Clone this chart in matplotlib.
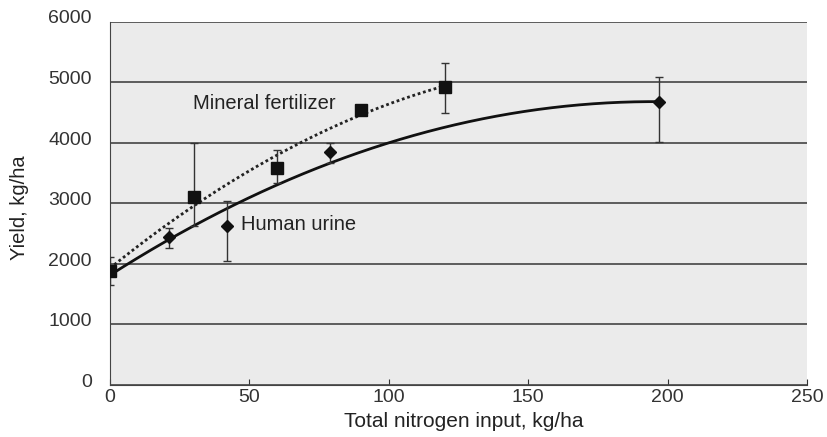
import numpy as np
import matplotlib
matplotlib.use('Agg')
import matplotlib.pyplot as plt
import matplotlib.transforms as mtransforms

plt.rcParams['font.family'] = ['Liberation Sans', 'DejaVu Sans']

# Mineral fertilizer (squares)
mineral_n = [0, 30, 60, 90, 120]
mineral_yield = [1890, 3110, 3590, 4550, 4930]
mineral_err_low = [240, 480, 250, 0, 430]
mineral_err_high = [220, 890, 290, 0, 390]

# Human urine (diamonds)
urine_n = [21, 42, 79, 197]
urine_yield = [2450, 2630, 3850, 4680]
urine_err_low = [190, 580, 180, 660]
urine_err_high = [150, 410, 150, 410]

# Trend lines, points
mineral_curve_x = [0, 30, 54, 60, 68, 92, 98, 120]
mineral_curve_y = [1920, 2980, 3630, 3820, 3990, 4470, 4620, 4950]
urine_curve_x = [0, 42, 54, 111, 147, 176, 197]
urine_curve_y = [1820, 2925, 3160, 4160, 4515, 4650, 4680]

fig = plt.figure(figsize=(8.27, 4.37), dpi=100)
ax = fig.add_axes([0.133, 0.119, 0.843, 0.831])
ax.set_facecolor('#ebebeb')

# fitted curves
mc = np.polyfit(mineral_curve_x, mineral_curve_y, 2)
xm = np.linspace(mineral_curve_x[0], mineral_curve_x[-1], 200)
ax.plot(xm, np.polyval(mc, xm), color='#222222', linestyle=(0, (1, 1)), linewidth=2.0, zorder=3)

uc = np.polyfit(urine_curve_x, urine_curve_y, 2)
xu = np.linspace(urine_curve_x[0], urine_curve_x[-1], 200)
ax.plot(xu, np.polyval(uc, xu), color='#111111', linewidth=2.0, zorder=3)

# data points with error bars
ax.errorbar(mineral_n, mineral_yield, yerr=[mineral_err_low, mineral_err_high],
            fmt='s', color='#111111', markersize=8.5, ecolor='#333333',
            elinewidth=1.0, capsize=3, capthick=1.0, zorder=4)
ax.errorbar(urine_n, urine_yield, yerr=[urine_err_low, urine_err_high],
            fmt='D', color='#111111', markersize=6, ecolor='#333333',
            elinewidth=1.0, capsize=3, capthick=1.0, zorder=4)

ax.text(29.8, 4650, 'Mineral fertilizer', fontsize=14.5, va='center', ha='left', color='#222222')
ax.text(47, 2660, 'Human urine', fontsize=14.5, va='center', ha='left', color='#222222')

ax.set_xlim(0, 250)
ax.set_ylim(0, 6000)
ax.set_xticks([0, 50, 100, 150, 200, 250])
ax.set_yticks([0, 1000, 2000, 3000, 4000, 5000, 6000])
ax.yaxis.grid(True, color='#444444', linewidth=1.2)
ax.set_axisbelow(True)

for s in ['top', 'right']:
    ax.spines[s].set_visible(False)
ax.spines['left'].set_color('#444444')
ax.spines['bottom'].set_color('#444444')

ax.tick_params(axis='x', direction='in', length=4, pad=3, labelsize=14, colors='#333333')
ax.tick_params(axis='y', length=0, pad=13, labelsize=14, colors='#333333')
offset = mtransforms.ScaledTranslation(0, 3.5 / 72, fig.dpi_scale_trans)
for lbl in ax.get_yticklabels():
    lbl.set_transform(lbl.get_transform() + offset)

ax.set_xlabel('Total nitrogen input, kg/ha', fontsize=15, color='#222222')
ax.xaxis.set_label_coords(0.507, -0.075)
ax.set_ylabel('Yield, kg/ha', fontsize=14.5, color='#222222')
ax.yaxis.set_label_coords(-0.116, 0.488)

plt.savefig('out.png', dpi=100)
